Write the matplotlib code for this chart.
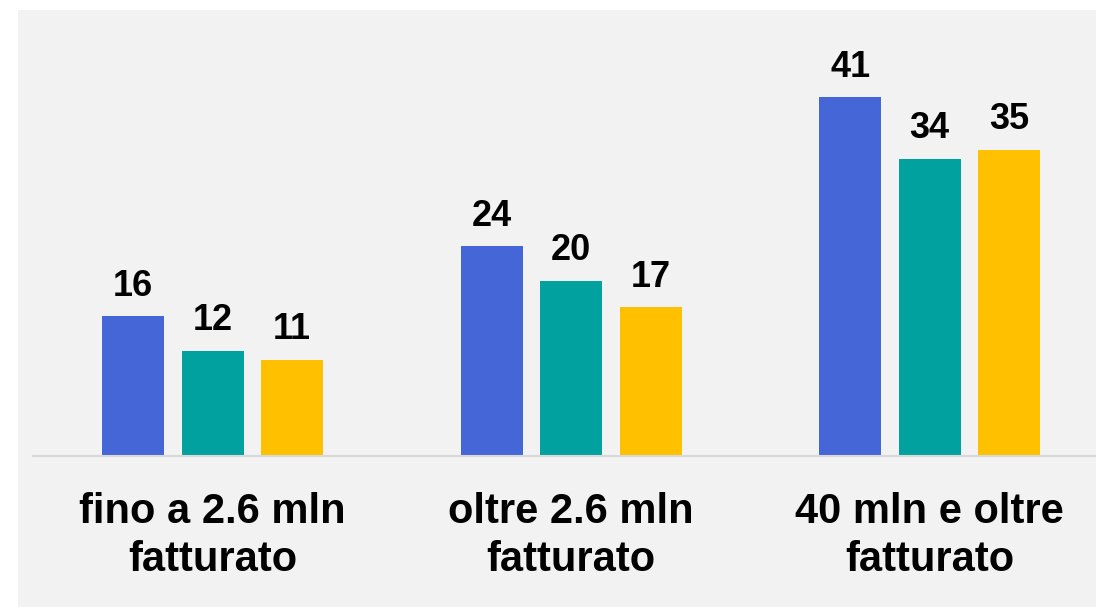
import numpy as np
import matplotlib.pyplot as plt
from matplotlib.patches import Rectangle

plt.rcParams['font.family'] = ['Liberation Sans', 'DejaVu Sans']

categorie = ["fino a 2.6 mln\nfatturato", "oltre 2.6 mln\nfatturato", "40 mln e oltre\nfatturato"]
serie1 = [16, 24, 41]
serie2 = [12, 20, 34]
serie3 = [11, 17, 35]
colori = ["#4466D6", "#00A19E", "#FFC000"]

W, H = 1096, 607
fig = plt.figure(figsize=(W / 100, H / 100), dpi=100)
fig.patch.set_facecolor("white")
# sfondo grigio
sfondo = Rectangle((18 / W, 0), 1 - 18 / W, (H - 10) / H,
                   transform=fig.transFigure, facecolor="#F2F2F2",
                   edgecolor="none", zorder=-10)
fig.add_artist(sfondo)

ax = fig.add_axes([33 / W, (H - 456) / H, 1 - 33 / W, (456 - 10) / H])
ax.set_facecolor("none")
ax.set_zorder(1)

x = np.arange(len(categorie))
larg = 0.173
passo = 0.2218
for k, (vals, c) in enumerate(zip([serie1, serie2, serie3], colori)):
    pos = x + (k - 1) * passo
    ax.bar(pos, vals, width=larg, color=c, zorder=2)
    for p, v in zip(pos, vals):
        ax.annotate(str(v), (p, v), xytext=(0, 9), textcoords="offset points",
                    ha="center", va="bottom", fontsize=26, fontweight="bold")

ax.set_xlim(-0.5007, 2.464)
ax.set_ylim(0, 446 / 8.75)
for s in ["top", "right", "left"]:
    ax.spines[s].set_visible(False)
ax.spines["bottom"].set_color("#D9D9D9")
ax.spines["bottom"].set_linewidth(1.5)
ax.set_yticks([])
ax.set_xticks(x)
ax.set_xticklabels(categorie, fontsize=30, fontweight="bold", linespacing=1.25)
ax.tick_params(axis="x", length=0, pad=26)

fig.savefig("out.png", dpi=100, facecolor=fig.get_facecolor())
